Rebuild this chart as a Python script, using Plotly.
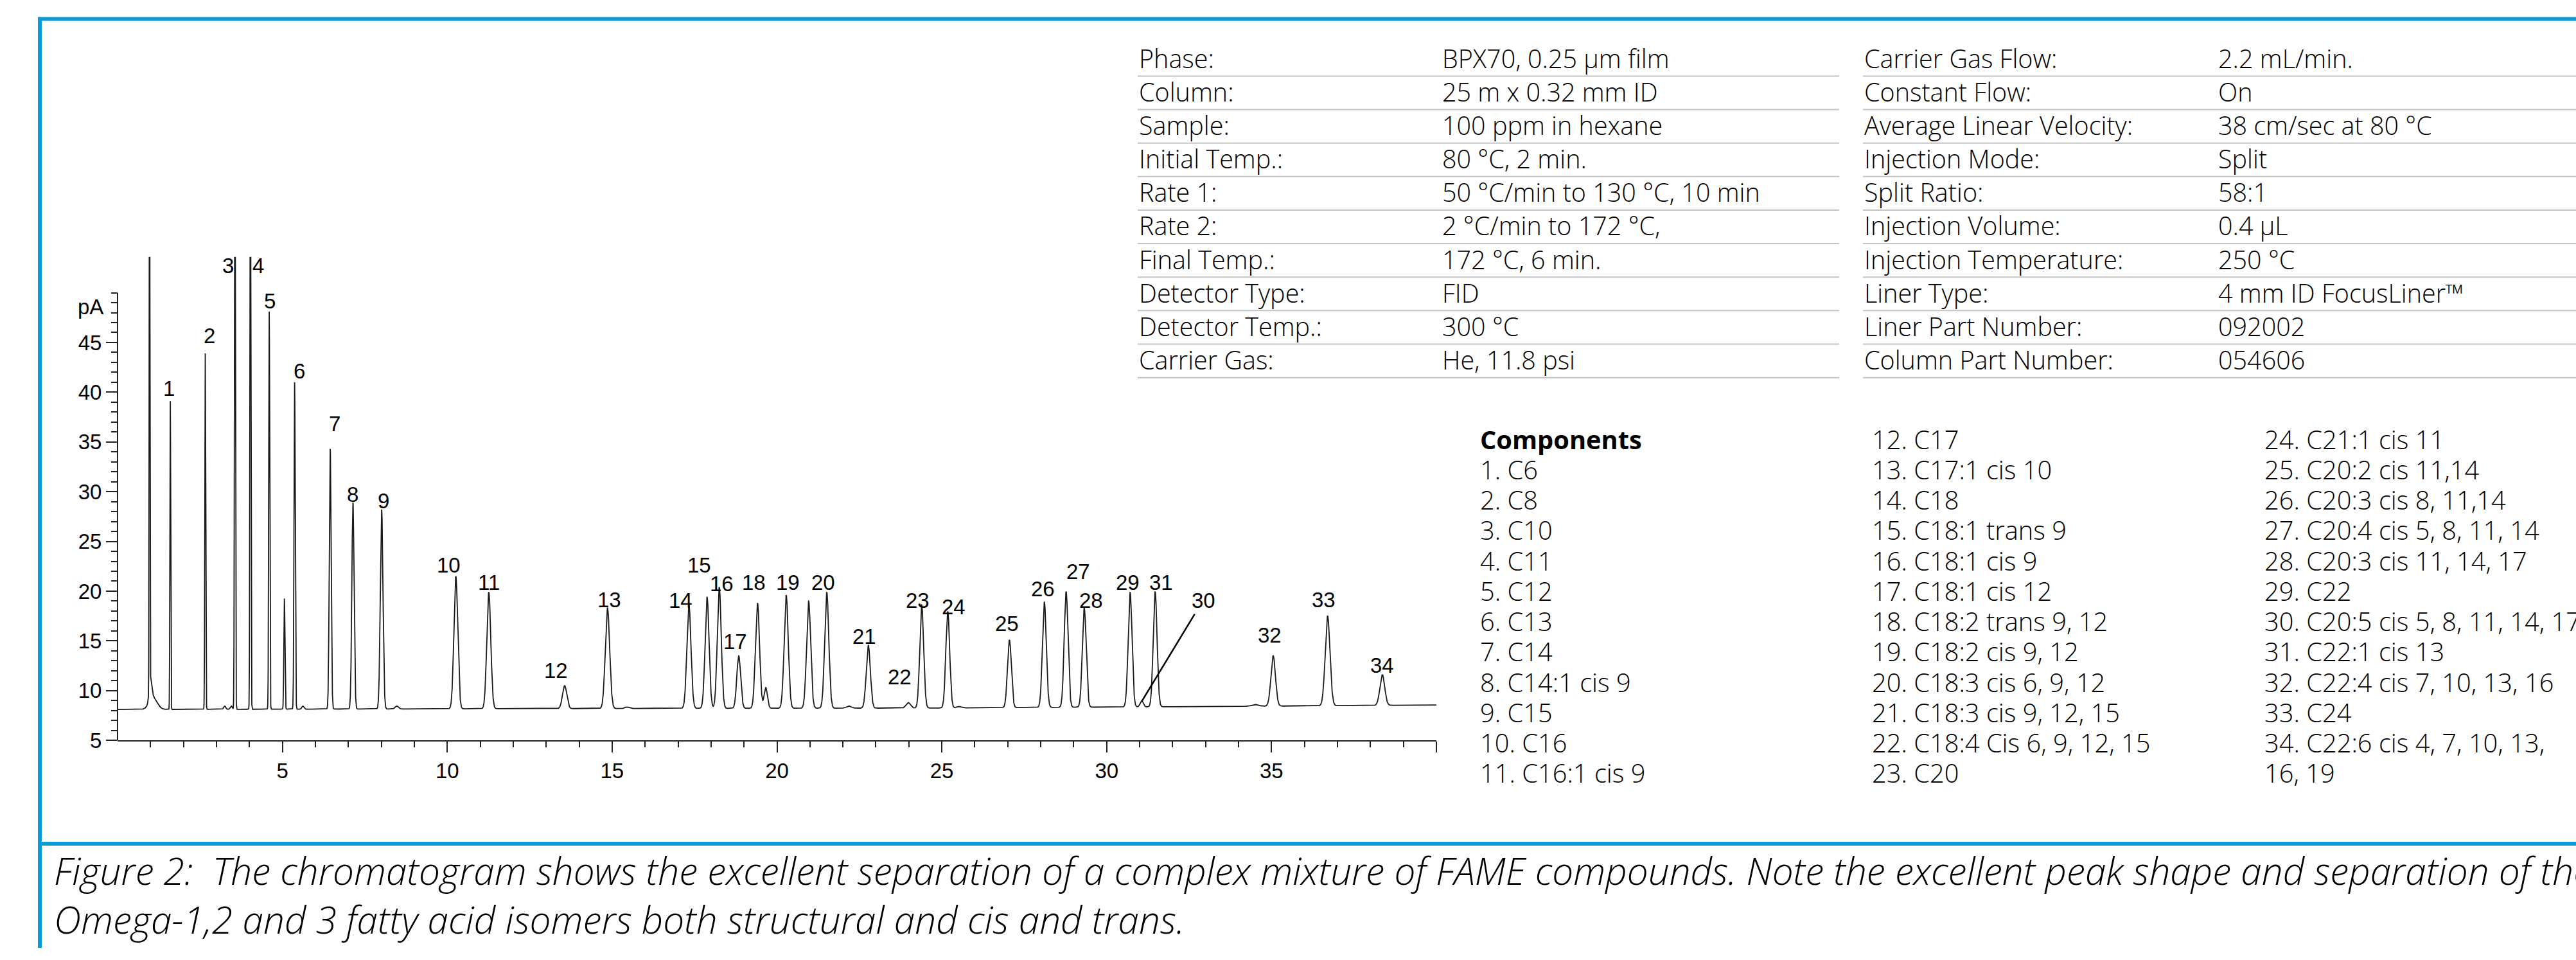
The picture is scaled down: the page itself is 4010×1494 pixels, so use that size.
import numpy as np
import plotly.graph_objects as go

W, H = 4010, 1494

# ---------------- DATA ----------------
# Labelled peaks: retention time (min), apex height (pA), peak sigma (min)
peak_numbers = list(range(1, 35))
peak_times = [1.60, 2.66, 3.56, 4.03, 4.60, 5.37, 6.45, 7.14, 8.01, 10.26,
              11.26, 13.56, 14.86, 17.33, 17.88, 18.25, 18.84, 19.41, 20.28, 21.51,
              22.77, 23.98, 24.39, 25.18, 27.05, 28.11, 28.77, 29.32, 30.71, 31.06,
              31.47, 35.05, 36.70, 38.36]
peak_heights = [39.1, 43.9, 70.0, 70.0, 48.1, 41.0, 34.3, 28.9, 28.2, 21.5,
                19.9, 10.5, 18.3, 18.6, 19.4, 20.4, 13.5, 18.8, 19.6, 19.9,
                14.55, 8.8, 18.6, 17.96, 15.1, 18.9, 19.95, 18.3, 19.9, 9.0,
                19.95, 13.5, 17.5, 11.6]
peak_sigmas = [0.012, 0.013, 0.014, 0.014, 0.015, 0.018, 0.028, 0.034, 0.040, 0.058,
               0.060, 0.065, 0.066, 0.062, 0.060, 0.060, 0.058, 0.062, 0.062, 0.062,
               0.062, 0.065, 0.058, 0.058, 0.058, 0.058, 0.058, 0.058, 0.058, 0.045,
               0.058, 0.068, 0.072, 0.072]

# Unlabelled signals (solvent, its tail, small extra peaks)
minor_times = [0.97, 1.00, 1.08, 3.25, 3.45, 5.06, 5.62, 8.47, 15.45, 19.66,
               20.96, 22.18, 25.50, 34.50]
minor_heights = [75.0, 10.3, 9.3, 8.45, 8.45, 19.25, 8.45, 8.45, 8.35, 10.3,
                 19.0, 8.45, 8.40, 8.60]
minor_sigmas = [0.010, 0.040, 0.120, 0.030, 0.030, 0.016, 0.030, 0.050, 0.060, 0.050,
                0.062, 0.070, 0.060, 0.100]

# Baseline level (pA) read at a few times
baseline_t = [0, 15, 25, 33, 40]
baseline_v = [8.10, 8.20, 8.25, 8.40, 8.55]

# Axis ticks
x_tickvals = [5, 10, 15, 20, 25, 30, 35, 40]
x_ticktext = ["5", "10", "15", "20", "25", "30", "35", ""]
y_tickvals = [5, 10, 15, 20, 25, 30, 35, 40, 45]
y_ticktext = ["5", "10", "15", "20", "25", "30", "35", "40", "45"]

# Method tables
left_labels = ["Phase:", "Column:", "Sample:", "Initial Temp.:", "Rate 1:", "Rate 2:",
               "Final Temp.:", "Detector Type:", "Detector Temp.:", "Carrier Gas:"]
left_values = ["BPX70, 0.25 µm film", "25 m x 0.32 mm ID", "100 ppm in hexane",
               "80 °C, 2 min.", "50 °C/min to 130 °C, 10 min", "2 °C/min to 172 °C,",
               "172 °C, 6 min.", "FID", "300 °C", "He, 11.8 psi"]
right_labels = ["Carrier Gas Flow:", "Constant Flow:", "Average Linear Velocity:",
                "Injection Mode:", "Split Ratio:", "Injection Volume:",
                "Injection Temperature:", "Liner Type:", "Liner Part Number:",
                "Column Part Number:"]
right_values = ["2.2 mL/min.", "On", "38 cm/sec at 80 °C", "Split", "58:1", "0.4 µL",
                "250 °C", "4 mm ID FocusLiner™", "092002", "054606"]

components = ["C6", "C8", "C10", "C11", "C12", "C13", "C14", "C14:1 cis 9", "C15", "C16",
              "C16:1 cis 9", "C17", "C17:1 cis 10", "C18", "C18:1 trans 9", "C18:1 cis 9",
              "C18:1 cis 12", "C18:2 trans 9, 12", "C18:2 cis 9, 12", "C18:3 cis 6, 9, 12",
              "C18:3 cis 9, 12, 15", "C18:4 Cis 6, 9, 12, 15", "C20", "C21:1 cis 11",
              "C20:2 cis 11,14", "C20:3 cis 8, 11,14", "C20:4 cis 5, 8, 11, 14",
              "C20:3 cis 11, 14, 17", "C22", "C20:5 cis 5, 8, 11, 14, 17", "C22:1 cis 13",
              "C22:4 cis 7, 10, 13, 16", "C24", "C22:6 cis 4, 7, 10, 13,\n16, 19"]

caption_lines = ["Figure 2:\u00a0 The chromatogram shows the excellent separation of a complex "
                 "mixture of FAME compounds. Note the excellent peak shape and separation of the",
                 "Omega-1,2 and 3 fatty acid isomers both structural and cis and trans."]

# ---------------- LAYOUT CONSTANTS ----------------
X0_PX, X1_PX = 183, 2236        # plot area, pixels
YB_PX, YT_PX = 1167, 405
X_RANGE = [0, 40]
Y_RANGE = [5, 53.6]
BLUE = "#0a9ad8"
AX = "#222222"
CHART_FONT = "Liberation Sans, Arial, sans-serif"
TEXT_FONT = "Open Sans, sans-serif"
CHART_FS = 33

# label anchor positions (time, pA) for peak numbers
LABEL_POS = [(1.556, 40.4), (2.786, 45.66), (3.345, 52.7), (4.265, 52.7), (4.612, 49.17),
             (5.509, 42.1), (6.589, 36.85), (7.125, 29.7), (8.057, 29.1), (10.04, 22.6),
             (11.26, 20.86), (13.30, 12.0), (14.91, 19.1), (17.08, 19.03), (17.64, 22.6),
             (18.33, 20.77), (18.73, 14.9), (19.30, 20.86), (20.34, 20.86), (21.41, 20.86),
             (22.64, 15.46), (23.73, 11.4), (24.27, 19.03), (25.35, 18.4), (26.97, 16.74),
             (28.06, 20.25), (29.14, 21.99), (29.52, 19.03), (30.64, 20.86), (32.94, 19.03),
             (31.66, 20.86), (34.94, 15.58), (36.58, 19.13), (38.35, 12.55)]


def fx(px):
    return px / W


def fy(py):
    return 1 - py / H


def val_to_py(v):
    return YB_PX - (v - Y_RANGE[0]) / (Y_RANGE[1] - Y_RANGE[0]) * (YB_PX - YT_PX)


# ---------------- BUILD SIGNAL ----------------
t = np.linspace(X_RANGE[0], X_RANGE[1], 20001)
signal = np.interp(t, baseline_t, baseline_v)
all_t = peak_times + minor_times
all_h = peak_heights + minor_heights
all_s = peak_sigmas + minor_sigmas
for t0, h, s in zip(all_t, all_h, all_s):
    amp = h - np.interp(t0, baseline_t, baseline_v)
    signal = signal + amp * np.exp(-0.5 * ((t - t0) / s) ** 2)

fig = go.Figure()
fig.add_trace(go.Scatter(x=t, y=signal, mode="lines",
                         line=dict(color="#1a1a1a", width=1.8),
                         hoverinfo="skip", showlegend=False))

annotations = []
shapes = []

# peak number labels
for n, (lt, lv) in zip(peak_numbers, LABEL_POS):
    annotations.append(dict(x=lt, y=lv, xref="x", yref="y", text=str(n), showarrow=False,
                            xanchor="center", yanchor="middle",
                            font=dict(family=CHART_FONT, size=CHART_FS, color="black")))

# leader line for peak 30
shapes.append(dict(type="line", xref="x", yref="y", x0=31.06, y0=8.9, x1=32.67, y1=17.7,
                   line=dict(color="black", width=2.5)))

# y axis line (stops at 50)
shapes.append(dict(type="line", xref="paper", yref="paper",
                   x0=fx(X0_PX), x1=fx(X0_PX), y0=fy(YB_PX), y1=fy(val_to_py(50)),
                   line=dict(color=AX, width=2)))

# pA label
annotations.append(dict(x=fx(163), y=fy(484), xref="paper", yref="paper", text="pA",
                        showarrow=False, xanchor="right", yanchor="middle",
                        font=dict(family=CHART_FONT, size=CHART_FS, color="black")))

# method tables
row0, row_step = 92, 52.8
LX, LV, RX, RV = 1771, 2243, 2900, 3451
for i in range(len(left_labels)):
    yc = row0 + i * row_step
    for xpx, txt in [(LX, left_labels[i]), (LV, left_values[i]),
                     (RX, right_labels[i]), (RV, right_values[i])]:
        annotations.append(dict(x=fx(xpx), y=fy(yc), xref="paper", yref="paper", text=txt,
                                showarrow=False, xanchor="left", yanchor="middle",
                                font=dict(family=TEXT_FONT, size=39.5, color="black", weight=300)))
    yl = 120 + i * row_step
    shapes.append(dict(type="line", xref="paper", yref="paper", x0=fx(LX), x1=fx(2863),
                       y0=fy(yl), y1=fy(yl), line=dict(color="#c4c4c4", width=2)))
    shapes.append(dict(type="line", xref="paper", yref="paper", x0=fx(RX), x1=1.0,
                       y0=fy(yl), y1=fy(yl), line=dict(color="#c4c4c4", width=2)))

# components list
comp_lines = [("<b>Components</b>", 2302, 0)]
col_x = [2302, 2912, 3523]
for i, name in enumerate(components):
    num = i + 1
    if num <= 11:
        comp_lines.append((f"{num}. {name}", col_x[0], num))
    elif num <= 23:
        comp_lines.append((f"{num}. {name}", col_x[1], num - 12))
    else:
        parts = name.split("\n")
        comp_lines.append((f"{num}. {parts[0]}", col_x[2], num - 24))
        for j, extra in enumerate(parts[1:]):
            comp_lines.append((extra, col_x[2], num - 24 + j + 1))
for txt, xpx, row in comp_lines:
    annotations.append(dict(x=fx(xpx), y=fy(692 + row * 47.85), xref="paper", yref="paper",
                            text=txt, showarrow=False, xanchor="left", yanchor="middle",
                            font=dict(family=TEXT_FONT, size=39.8, color="black", weight=300)))

# caption (one two-line text block)
annotations.append(dict(x=fx(82), y=fy(1410), xref="paper", yref="paper",
                        text="<br>".join(caption_lines), showarrow=False,
                        xanchor="left", yanchor="middle", align="left",
                        font=dict(family=TEXT_FONT, size=58.5, color="black",
                                  style="italic", weight=300)))

# blue frame
shapes += [
    dict(type="line", xref="paper", yref="paper", x0=fx(59), x1=1.0, y0=fy(30), y1=fy(30),
         line=dict(color=BLUE, width=6)),
    dict(type="line", xref="paper", yref="paper", x0=fx(62), x1=fx(62), y0=fy(27), y1=0,
         line=dict(color=BLUE, width=6)),
    dict(type="line", xref="paper", yref="paper", x0=fx(62), x1=1.0, y0=fy(1330), y1=fy(1330),
         line=dict(color=BLUE, width=6)),
]

x_minor = [v for v in range(1, 40) if v % 5 != 0]
y_minor = [v for v in range(6, 51) if v % 5 != 0] + [50]

fig.update_layout(
    width=W, height=H,
    margin=dict(l=0, r=0, t=0, b=0, pad=0),
    paper_bgcolor="white", plot_bgcolor="white",
    showlegend=False,
    xaxis=dict(domain=[fx(X0_PX), fx(X1_PX)], range=X_RANGE, showgrid=False, zeroline=False,
               showline=True, linecolor=AX, linewidth=2,
               tickmode="array", tickvals=x_tickvals, ticktext=x_ticktext,
               ticks="outside", ticklen=17, tickwidth=2, tickcolor=AX,
               minor=dict(tickmode="array", tickvals=x_minor, ticks="outside", ticklen=9,
                          tickwidth=2, tickcolor=AX, showgrid=False),
               tickfont=dict(family=CHART_FONT, size=CHART_FS, color="black"),
               fixedrange=True),
    yaxis=dict(domain=[fy(YB_PX), fy(YT_PX)], range=Y_RANGE, showgrid=False, zeroline=False,
               showline=False,
               tickmode="array", tickvals=y_tickvals, ticktext=y_ticktext,
               ticks="outside", ticklen=17, tickwidth=2, tickcolor=AX,
               minor=dict(tickmode="array", tickvals=y_minor, ticks="outside", ticklen=9,
                          tickwidth=2, tickcolor=AX, showgrid=False),
               tickfont=dict(family=CHART_FONT, size=CHART_FS, color="black"),
               fixedrange=True),
    annotations=annotations,
    shapes=shapes,
)

fig.write_html("out.html", config={"displayModeBar": False},
               post_script="document.body.style.margin='0px';document.body.style.overflow='hidden';")
